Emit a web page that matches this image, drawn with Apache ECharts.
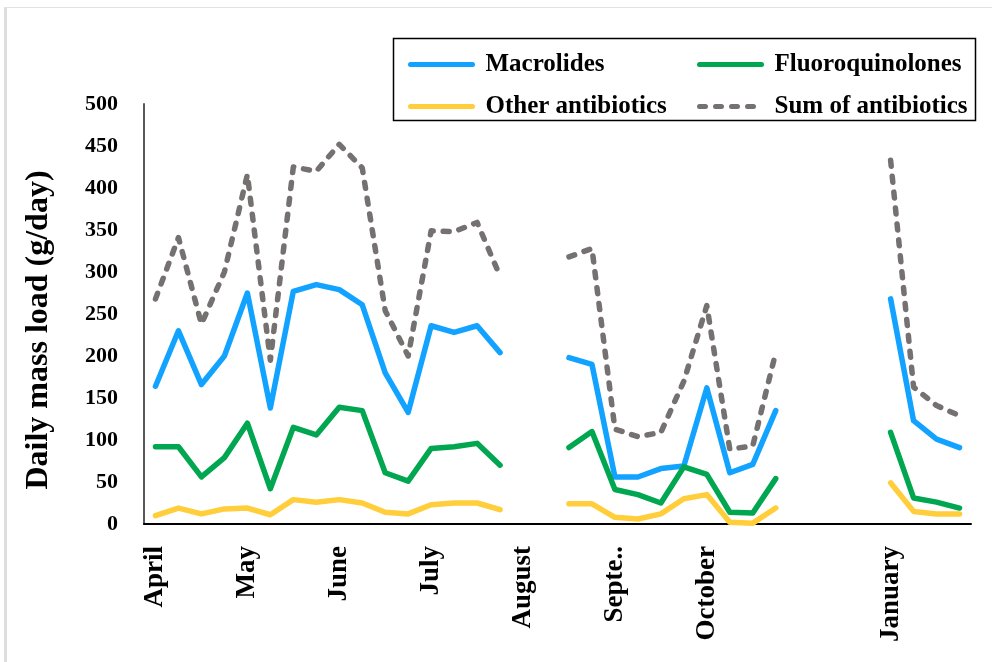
<!DOCTYPE html>
<html>
<head>
<meta charset="utf-8">
<script src="https://cdn.jsdelivr.net/npm/echarts@6/dist/echarts.min.js"></script>
<style>
html,body{margin:0;padding:0;background:#fff;}
#chart{width:992px;height:662px;}
</style>
</head>
<body>
<div id="chart"></div>
<script>
// Month labels, one label per group of 4 sampling slots
var monthLabels = ['April', 'May', 'June', 'July', 'August', 'Septe..', 'October', '', 'January'];
var slotsPerMonth = 4;

// Daily mass loads (g/day); null = no sampling
var macrolides = [164, 230, 166, 200, 275, 138, 277, 285, 279, 261, 180, 133, 236, 228, 236, 204,
  null, null, 198, 190, 56, 56, 66, 69, 162, 61, 71, 135,
  null, null, null, null, 268, 123, 101, 91];
var fluoroquinolones = [92, 92, 56, 79, 120, 42, 115, 106, 139, 135, 61, 51, 90, 92, 96, 70,
  null, null, 91, 110, 41, 35, 25, 68, 59, 14, 13, 54,
  null, null, null, null, 109, 31, 26, 19];
var otherAntibiotics = [10, 19, 12, 18, 19, 11, 29, 26, 29, 25, 14, 12, 23, 25, 25, 17,
  null, null, 24, 24, 8, 6, 12, 30, 35, 2, 1, 19,
  null, null, null, null, 49, 15, 12, 12];
var sumAntibiotics = [268, 341, 238, 300, 416, 195, 425, 420, 452, 424, 254, 200, 349, 348, 359, 295,
  null, null, 318, 328, 113, 104, 109, 170, 260, 89, 93, 204,
  null, null, null, null, 433, 163, 141, 129];

var yTicks = {min: 0, max: 500, interval: 50};

var categories = [];
monthLabels.forEach(function (m, i) {
  for (var k = 0; k < slotsPerMonth; k++) categories.push(m + '|' + i + '-' + k);
});

var FONT = '"Liberation Serif", "Times New Roman", serif';
var LW = 5.5;
var chart = echarts.init(document.getElementById('chart'));

function mkLegend(name, left, top) {
  return {
    data: [name], left: left, top: top, itemWidth: 62, itemHeight: 14, padding: 0,
    itemStyle: {opacity: 0},
    lineStyle: {width: 5},
    textStyle: {fontFamily: FONT, fontWeight: 'bold', fontSize: 25, color: '#000', padding: [0, 0, 0, 8]}
  };
}

var option = {
  animation: false,
  backgroundColor: '#fff',
  grid: {left: 144, right: 21, top: 104, bottom: 138, containLabel: false},
  legend: [
    mkLegend('Macrolides', 408, 52),
    mkLegend('Fluoroquinolones', 697, 52),
    mkLegend('Other antibiotics', 408, 94),
    mkLegend('Sum of antibiotics', 697, 94)
  ],
  graphic: [
    {type: 'rect', shape: {x: 4, y: 7, width: 3, height: 660}, style: {fill: '#dedede'}, silent: true},
    {type: 'rect', shape: {x: 4, y: 7, width: 990, height: 1}, style: {fill: '#e2e2e2'}, silent: true},
    {type: 'rect', shape: {x: 393.5, y: 38.5, width: 582, height: 82}, style: {fill: null, stroke: '#000', lineWidth: 1.5}, silent: true}
  ],
  xAxis: [{
    type: 'category', data: categories, boundaryGap: true,
    axisLine: {lineStyle: {color: '#000', width: 2}},
    axisTick: {interval: 3, length: 8, lineStyle: {color: '#000', width: 2}},
    axisLabel: {
      interval: 3, rotate: 90, margin: 22,
      fontFamily: FONT, fontWeight: 'bold', fontSize: 27, color: '#000',
      formatter: function (v) { return v.split('|')[0]; }
    },
    splitLine: {show: false}
  }, {
    type: 'category', data: categories, boundaryGap: true, position: 'bottom',
    axisLine: {show: false},
    axisTick: {interval: 3, length: 8, inside: true, lineStyle: {color: '#000', width: 2}},
    axisLabel: {show: false}, splitLine: {show: false}
  }],
  yAxis: {
    type: 'value', min: yTicks.min, max: yTicks.max, interval: yTicks.interval,
    name: 'Daily mass load (g/day)', nameLocation: 'middle', nameGap: 89,
    nameTextStyle: {fontFamily: FONT, fontWeight: 'bold', fontSize: 32, color: '#000', padding: [0, 32, 0, 0]},
    axisLine: {show: true, lineStyle: {color: '#595959', width: 2}},
    axisTick: {show: false},
    axisLabel: {margin: 26, fontFamily: FONT, fontWeight: 'bold', fontSize: 22, color: '#000'},
    splitLine: {show: false}
  },
  series: [
    {name: 'Macrolides', type: 'line', data: macrolides, symbol: 'none', connectNulls: false,
      lineStyle: {color: '#12A2FF', width: LW, join: 'round', cap: 'round'}, itemStyle: {color: '#12A2FF'}},
    {name: 'Fluoroquinolones', type: 'line', data: fluoroquinolones, symbol: 'none',
      lineStyle: {color: '#00A650', width: LW, join: 'round', cap: 'round'}, itemStyle: {color: '#00A650'}},
    {name: 'Other antibiotics', type: 'line', data: otherAntibiotics, symbol: 'none',
      lineStyle: {color: '#FFCE3A', width: LW, join: 'round', cap: 'round'}, itemStyle: {color: '#FFCE3A'}},
    {name: 'Sum of antibiotics', type: 'line', data: sumAntibiotics, symbol: 'none',
      lineStyle: {color: '#767171', width: LW, type: [6, 10], cap: 'round', join: 'round'}, itemStyle: {color: '#767171'}}
  ]
};
chart.setOption(option);
</script>
</body>
</html>
